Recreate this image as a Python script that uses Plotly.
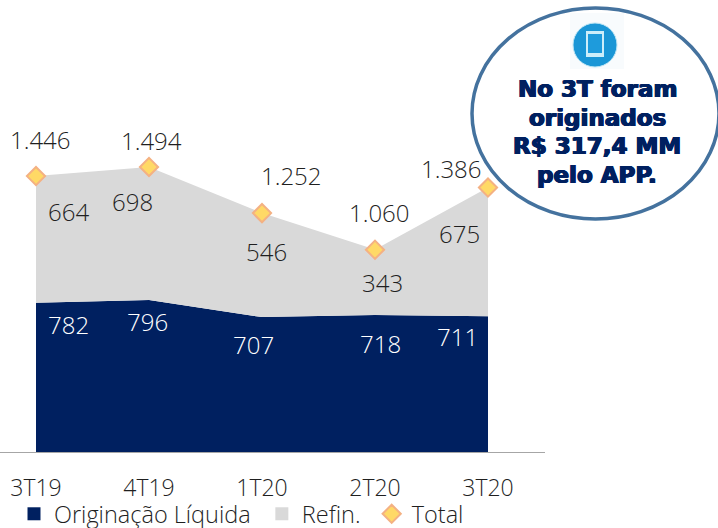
import plotly.graph_objects as go

categories = ["3T19", "4T19", "1T20", "2T20", "3T20"]
originacao = [782, 796, 707, 718, 711]
refin = [664, 698, 546, 343, 675]
total = [1446, 1494, 1252, 1060, 1386]
total_labels = ["1.446", "1.494", "1.252", "1.060", "1.386"]
bubble_lines = ["No 3T foram", "originados", "R$ 317,4 MM", "pelo APP."]

NAVY = "#002060"
GRAY = "#d9d9d9"
INK = "#1f1f1f"
W, H = 718, 528
ML, MR, MT, MB = 0, 173, 0, 76
PW, PH = W - ML - MR, H - MT - MB
FONT = "Open Sans"

# label offsets in pixels (x, y) from their anchors
off_total = [(4, 37), (2, 26), (29, 38), (4, 37), (-37, 19)]
off_refin = [(32, -35), (-17, -35), (4, -38), (7, -33), (-29, -46)]
off_orig = [(32, -22), (-2, -21), (-9, -27), (5, -28), (-31, -20)]

idx = list(range(len(categories)))
fig = go.Figure()
fig.add_trace(go.Scatter(x=idx, y=originacao, stackgroup="s", mode="none",
                         fillcolor=NAVY, showlegend=False, hoverinfo="skip"))
fig.add_trace(go.Scatter(x=idx, y=refin, stackgroup="s", mode="none",
                         fillcolor=GRAY, showlegend=False, hoverinfo="skip"))
fig.add_trace(go.Scatter(x=[None], y=[None], mode="markers", name="Originação Líquida\u00a0",
                         marker=dict(symbol="square", size=13, color=NAVY)))
fig.add_trace(go.Scatter(x=[None], y=[None], mode="markers", name="Refin.\u00a0",
                         marker=dict(symbol="square", size=13, color=GRAY)))
fig.add_trace(go.Scatter(x=idx, y=total, mode="markers", name="Total", cliponaxis=False,
                         marker=dict(symbol="diamond", size=14, color="#ffd966",
                                     line=dict(color="#f4b183", width=2))))

ann = []
def lab(x, y, t, off, color=INK):
    ann.append(dict(x=x, y=y, text=t, showarrow=False, xanchor="center", yanchor="middle",
                    xshift=off[0], yshift=off[1],
                    font=dict(family=FONT, size=24, color=color, weight=300)))
for i in idx:
    lab(i, total[i], total_labels[i], off_total[i])
    lab(i, total[i], str(refin[i]), off_refin[i])
    lab(i, originacao[i], str(originacao[i]), off_orig[i], "#ffffff")

px = lambda v: (v - ML) / PW
py = lambda v: 1 - (v - MT) / PH

for n, line in enumerate(bubble_lines):
    ann.append(dict(xref="paper", yref="paper", x=px(597), y=py(89 + 28.5 * n), text=line,
                    showarrow=False, xanchor="center", yanchor="middle",
                    font=dict(family="DejaVu Sans", size=23, color=NAVY, weight=700,
                              shadow="0.7px 0 0 #002060, -0.7px 0 0 #002060, 0 0.4px 0 #002060, 0 -0.4px 0 #002060")))

def rect(x0, y0, x1, y1, **k):
    return dict(type="rect", xref="paper", yref="paper", x0=px(x0), x1=px(x1), y0=py(y0), y1=py(y1), **k)
def circ(x0, y0, x1, y1, **k):
    return dict(type="circle", xref="paper", yref="paper", x0=px(x0), x1=px(x1), y0=py(y0), y1=py(y1), **k)

shapes = [
    circ(472, 8, 719, 219, fillcolor="#ffffff", line=dict(color="#44729e", width=3.5), layer="above"),
    rect(570, 13, 624, 69, fillcolor="#f8fbfd", line=dict(width=0), layer="above"),
    circ(573, 23, 617, 67, fillcolor="#1a96d6", line=dict(color="#bfe6f5", width=1), layer="above"),
    rect(586, 31, 604, 57, fillcolor="#cdeefa", line=dict(width=0), layer="above"),
    rect(588, 34, 602, 53, fillcolor="#1e9bdc", line=dict(width=0), layer="above"),
]

fig.update_layout(
    width=W, height=H, autosize=False,
    margin=dict(l=ML, r=MR, t=MT, b=MB, pad=0, autoexpand=False),
    paper_bgcolor="#ffffff", plot_bgcolor="#ffffff",
    font=dict(family=FONT, color=INK, size=23),
    xaxis=dict(range=[-36 / 113, (PW - 36) / 113], tickmode="array", tickvals=idx, ticktext=categories,
               showgrid=False, zeroline=False, showline=True, linecolor="#a6a6a6", linewidth=1,
               ticks="", ticklabelstandoff=15, automargin=False,
               tickfont=dict(family=FONT, size=23, color=INK, weight=300)),
    yaxis=dict(range=[0, PH / 0.1908], visible=False, showgrid=False, zeroline=False),
    legend=dict(orientation="h", x=14 / PW, xanchor="left", y=py(492), yanchor="top",
                traceorder="normal",
                bgcolor="rgba(0,0,0,0)", font=dict(family=FONT, size=23.5, color=INK, weight=300),
                itemwidth=30, tracegroupgap=0),
    annotations=ann, shapes=shapes, showlegend=True,
)
fig.write_html("out.html", config=dict(displayModeBar=False),
               post_script="document.body.style.margin='0';document.body.style.overflow='hidden';")
